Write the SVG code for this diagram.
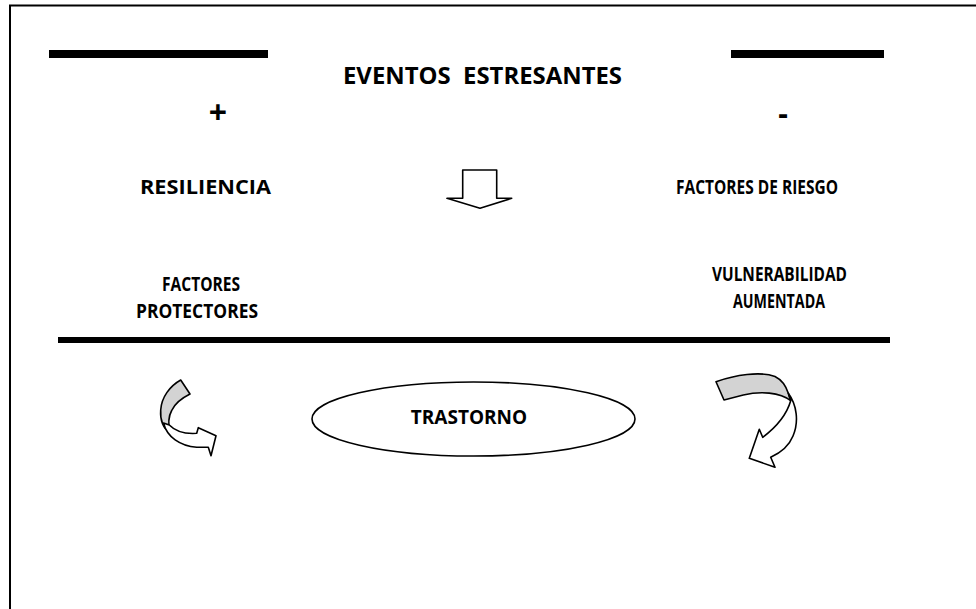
<svg xmlns="http://www.w3.org/2000/svg" width="976" height="609" viewBox="0 0 976 609">
<style>
.t{font-family:"Open Sans","Liberation Sans",sans-serif;font-weight:bold;fill:#000;}
.bar{fill:#000;}
.shape{stroke:#000;stroke-width:1.6;stroke-linejoin:round;}
</style>
<rect x="0" y="0" width="976" height="609" fill="#fff"/>
<g id="frame">
<line x1="9" y1="5.5" x2="976" y2="5.5" stroke="#000" stroke-width="2"/>
<line x1="10" y1="5" x2="10" y2="609" stroke="#000" stroke-width="2"/>
</g>
<g id="bars">
<rect class="bar" x="49" y="50" width="219" height="8"/>
<rect class="bar" x="731" y="50" width="153" height="8"/>
<rect class="bar" x="58" y="337" width="832" height="6"/>
</g>
<g id="title">
<text class="t" x="343" y="84" font-size="23" textLength="279" lengthAdjust="spacingAndGlyphs" xml:space="preserve">EVENTOS  ESTRESANTES</text>
</g>
<g id="plus"><text class="t" x="218" y="124" font-size="32" text-anchor="middle">+</text></g>
<g id="minus"><text class="t" x="783" y="124" font-size="30" text-anchor="middle">-</text></g>
<g id="resiliencia"><text class="t" x="140" y="194" font-size="19" textLength="131" lengthAdjust="spacingAndGlyphs">RESILIENCIA</text></g>
<g id="factores-riesgo"><text class="t" x="676" y="194" font-size="19" textLength="162" lengthAdjust="spacingAndGlyphs">FACTORES DE RIESGO</text></g>
<g id="factores-protectores">
<text class="t" x="162" y="291" font-size="19" textLength="78" lengthAdjust="spacingAndGlyphs">FACTORES</text>
<text class="t" x="136" y="318" font-size="19" textLength="122" lengthAdjust="spacingAndGlyphs">PROTECTORES</text>
</g>
<g id="vulnerabilidad">
<text class="t" x="712" y="281" font-size="19" textLength="135" lengthAdjust="spacingAndGlyphs">VULNERABILIDAD</text>
<text class="t" x="733" y="308" font-size="19" textLength="92" lengthAdjust="spacingAndGlyphs">AUMENTADA</text>
</g>
<g id="down-arrow">
<path class="shape" fill="#fff" d="M462.7,170 L496.7,170 L496.7,198.3 L511.7,198.3 L480,208.3 L447,198.3 L462.7,198.3 Z"/>
</g>
<g id="trastorno">
<ellipse class="shape" fill="#fff" cx="473.5" cy="419" rx="161.5" ry="37"/>
<text class="t" x="469" y="424" font-size="19" text-anchor="middle">TRASTORNO</text>
</g>
<g id="connectors">
<g id="left-curved-arrow">
<path class="shape" fill="#d3d3d3" d="M180.7,380 C170,386 161.5,397 160.7,410 C160,420 163,428 170,433 C168,424 168,417 171.7,410.5 C175,403 182,398 190,394 Z"/>
<path class="shape" fill="#fff" d="M163.5,423 C167,437 180,446 196.7,447.3 L208.3,447.3 L211,455.7 L216,435.7 L198.3,427.7 L196.7,433.3 C186,434 176,432 169.3,425 Z"/>
</g>
<g id="right-curved-arrow">
<path class="shape" fill="#d3d3d3" d="M716,381.7 C735,375 760,371 775,376.5 C782,380 786,386 788.3,393.3 L790.7,400.7 C780,392 760,391 743.3,395 L724,400 Z"/>
<path class="shape" fill="#fff" d="M788.3,393.3 C797,405 799,422 793,436 C789,446 780,453 770.7,457.3 L775,467.3 L749.3,458.3 L759.3,429.3 L762.7,437.3 C775,428 786,417 790.7,400.7 Z"/>
</g>
</g>
</svg>
